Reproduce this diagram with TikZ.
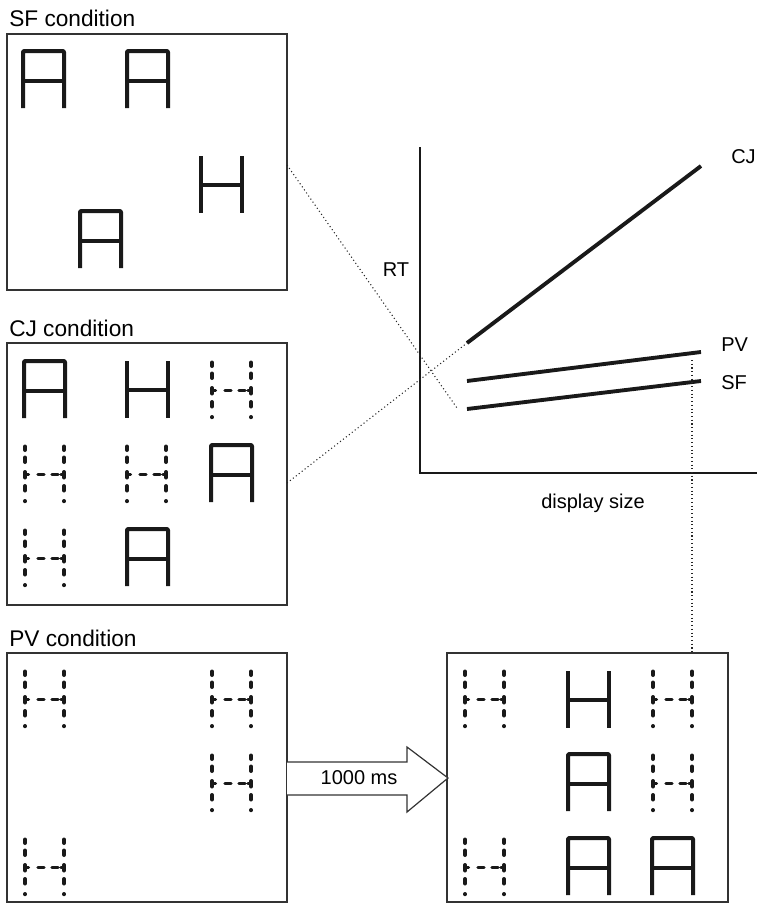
\documentclass[tikz,border=0pt]{standalone}
\usepackage{fontspec}
\setmainfont{Liberation Sans}
\begin{document}
\begin{tikzpicture}[x=0.75pt,y=-0.75pt,
  panel/.style={draw=black!80,line width=0.9pt},
  letter/.style={draw=black!90,line width=3pt,line cap=butt,line join=round},
  dotl/.style={draw=black!90,line width=3pt,line cap=round},
  axis/.style={draw=black!90,line width=2.2pt},
  curve/.style={draw=black!90,line width=2.9pt},
  conn/.style={draw=black!85,line width=0.8pt,dotted},
  title/.style={anchor=base west,inner sep=0pt,font=\fontsize{17}{20}\selectfont},
  lab/.style={inner sep=0pt,font=\fontsize{15}{18}\selectfont},
  solidA/.pic={\draw[letter,rounded corners=0.8] (0,57)--(0,0)--(41,0)--(41,57); \draw[letter] (0,30)--(41,30);},
  solidH/.pic={\draw[letter] (0,0)--(0,57) (41,0)--(41,57) (0,28.5)--(41,28.5);},
  dotH/.pic={
    \foreach \xx in {0,39}{
      \draw[dotl] (\xx,1.5)--(\xx,5) (\xx,12.5)--(\xx,17) (\xx,27)--(\xx,32.5) (\xx,41)--(\xx,45.5) (\xx,56)--(\xx,56.2);}
    \draw[dotl,line width=2.6pt] (0,29.5)--(3.5,29.5) (13,29.5)--(19,29.5) (27,29.5)--(33,29.5) (36,29.5)--(39,29.5);}
]
\useasboundingbox (0,0) rectangle (757,914);

% titles
\node[title] (tsf) at (9,26) {SF condition};
\node[title] (tcj) at (9,336) {CJ condition};
\node[title] (tpv) at (9,646) {PV condition};

% panels
\draw[panel] (7,34) rectangle (287,290);
\draw[panel] (7,343) rectangle (287,605);
\draw[panel] (7,653) rectangle (287,902);
\draw[panel] (447,653) rectangle (728,902);

% SF panel letters
\pic at (23,51) {solidA};
\pic at (127,51) {solidA};
\pic at (201,156) {solidH};
\pic at (80,211) {solidA};

% CJ panel letters
\pic at (24,361) {solidA};
\pic at (127,361) {solidH};
\pic at (212,361) {dotH};
\pic at (25,445) {dotH};
\pic at (127,445) {dotH};
\pic at (211,445) {solidA};
\pic at (25,529) {dotH};
\pic at (127,529) {solidA};

% PV panel letters
\pic at (25,670) {dotH};
\pic at (212,670) {dotH};
\pic at (212,754) {dotH};
\pic at (25,838) {dotH};

% right panel letters
\pic at (465,670) {dotH};
\pic at (568,671) {solidH};
\pic at (653,670) {dotH};
\pic at (568,754) {solidA};
\pic at (653,754) {dotH};
\pic at (465,838) {dotH};
\pic at (568,838) {solidA};
\pic at (652,838) {solidA};

% arrow
\draw[panel,fill=white] (287,762)--(407,762)--(407,747)--(448,778)--(407,812)--(407,795)--(287,795);
\node[lab] (ms) at (359,778) {1000 ms};

% graph
\coordinate (ytop) at (420,147);
\coordinate (org) at (420,473);
\coordinate (xend) at (757,473);
\draw[axis] (ytop)--(org)--(xend);
\coordinate (cj0) at (467,343);
\coordinate (cj1) at (701,166);
\coordinate (pv0) at (467,381);
\coordinate (pv1) at (701,352);
\coordinate (sf0) at (467,409);
\coordinate (sf1) at (701,381);
\draw[curve] (cj0)--(cj1);
\draw[curve] (pv0)--(pv1);
\draw[curve] (sf0)--(sf1);
\node[lab,anchor=west] (lcj) at (731,157) {CJ};
\node[lab,anchor=west] (lpv) at (721,345) {PV};
\node[lab,anchor=west] (lsf) at (721,383) {SF};
\node[lab] (lrt) at (396,270) {RT};
\node[lab] (lds) at (593,503) {display size};

% dotted connectors
\coordinate (sfbox) at (287,165);
\coordinate (sfend) at (457,408);
\coordinate (cjbox) at (287,483);
\coordinate (vtop) at (692,360);
\coordinate (vbot) at (692,653);
\draw[conn] (sfbox)--(sfend);
\draw[conn] (cjbox)--(cj0);
\draw[conn] (vtop)--(vbot);
\end{tikzpicture}
\end{document}
